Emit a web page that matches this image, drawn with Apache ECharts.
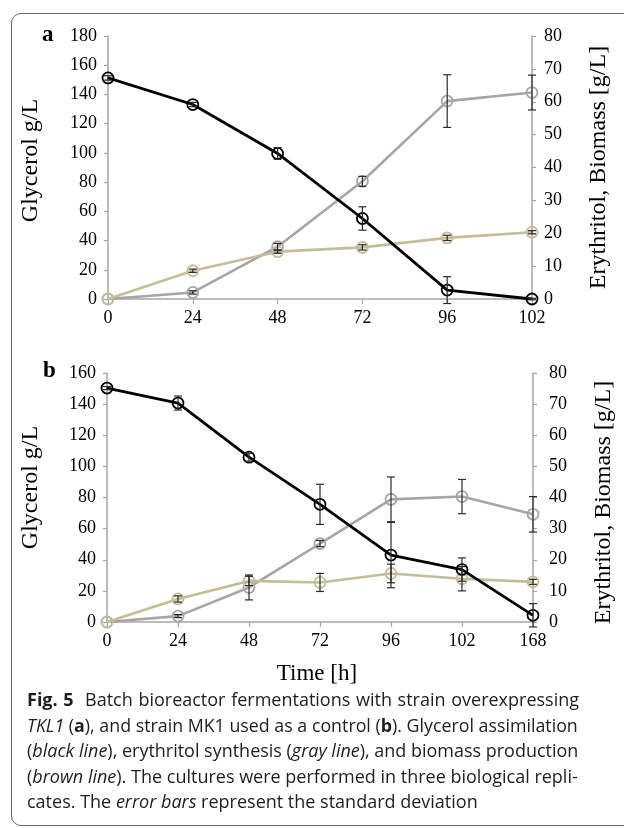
<!DOCTYPE html>
<html>
<head>
<meta charset="utf-8">
<script src="https://cdn.jsdelivr.net/npm/echarts@6/dist/echarts.min.js"></script>
<style>
  html, body { margin:0; padding:0; background:#fff; }
  #wrap { position:relative; width:624px; height:828px; overflow:hidden; }
  #chart { position:absolute; left:0; top:0; width:624px; height:828px; }
  #frame { position:absolute; left:11px; top:13px; width:660px; height:813px; border:1.5px solid #666; border-radius:10px; box-sizing:border-box; pointer-events:none; }
  #cap { position:absolute; left:27px; top:687px; width:2000px; font-family:"Open Sans","Noto Sans",sans-serif; font-size:18px; line-height:25.5px; color:#1e1e1e; }
  #cap .l { white-space:nowrap; height:25.5px; }
  #cap .l span { display:inline-block; white-space:nowrap; transform-origin:0 50%; }
</style>
</head>
<body>
<div id="wrap">
  <div id="chart"></div>
  <div id="frame"></div>
  <div id="cap">
    <div class="l"><span><b>Fig. 5</b>&nbsp; Batch bioreactor fermentations with strain overexpressing</span></div>
    <div class="l"><span><i>TKL1</i> (<b>a</b>), and strain MK1 used as a control (<b>b</b>). Glycerol assimilation</span></div>
    <div class="l"><span>(<i>black line</i>), erythritol synthesis (<i>gray line</i>), and biomass production</span></div>
    <div class="l"><span>(<i>brown line</i>). The cultures were performed in three biological repli-</span></div>
    <div class="l last"><span>cates. The <i>error bars</i> represent the standard deviation</span></div>
  </div>
</div>
<script>
// ---- Panel a data ----
const catsA = ['0','24','48','72','96','102'];
const glycerolA = [151.3, 133.1, 99.6, 55.1, 6.1, 0];
const glycerolAErr = [1.5, 1.5, 4, 8, 9.2, 0.5];
const erythritolA = [0, 2.0, 15.9, 35.8, 60.2, 62.8];
const erythritolAErr = [0, 0.5, 1, 1.5, 8, 5.3];
const biomassA = [0, 8.6, 14.4, 15.7, 18.6, 20.3];
const biomassAErr = [0, 0.5, 0.5, 0.8, 0.8, 0.5];

// ---- Panel b data ----
const catsB = ['0','24','48','72','96','102','168'];
const glycerolB = [150.3, 140.7, 105.9, 75.6, 43, 33.7, 4.3];
const glycerolBErr = [1, 4.5, 2.5, 12.9, 21, 7.5, 7.5];
const erythritolB = [0, 1.9, 11.1, 25.2, 39.4, 40.3, 34.6];
const erythritolBErr = [0, 0.5, 4, 1, 7.2, 5.5, 5.7];
const biomassB = [0, 7.4, 13.2, 12.7, 15.6, 13.9, 12.9];
const biomassBErr = [0, 1, 1.5, 2.9, 3, 3.9, 0.8];

// tick settings
const leftMaxA = 180, leftMaxB = 160, rightMax = 80;

const SERIF = '"Liberation Serif","Times New Roman",serif';
const AXIS_GRAY = '#a6a6a6';
const C_BLACK = '#000000', C_GRAY = '#a6a6a6', C_TAN = '#c4bd97';

// ---- caption justification: fit each line to the target width ----
function fitCaption(){
  const target = 551;
  document.querySelectorAll('#cap .l').forEach(l => {
    const s = l.querySelector('span');
    s.style.wordSpacing = '0px';
    s.style.transform = 'none';
    const w = s.offsetWidth;
    if (!w) return;
    if (w > target) {
      s.style.transform = 'scaleX(' + (target / w) + ')';
    } else if (!l.classList.contains('last')) {
      const n = (s.textContent.match(/ /g) || []).length;
      if (n > 0) s.style.wordSpacing = ((target - w) / n) + 'px';
    }
  });
}
fitCaption();
if (document.fonts && document.fonts.ready) document.fonts.ready.then(fitCaption);

function lineSeries(xi, yi, data, color, lw) {
  return {
    type:'line', xAxisIndex:xi, yAxisIndex:yi, data:data,
    symbol:'circle', symbolSize:11, showSymbol:true,
    lineStyle:{color:color, width:lw},
    itemStyle:{color:'rgba(0,0,0,0)', borderColor:color, borderWidth:1.8},
    z:3, animation:false, silent:true
  };
}
function errSeries(xi, yi, vals, errs) {
  const d = [];
  vals.forEach((v,i)=>{ if (errs[i] > 0) d.push([i, v-errs[i], v+errs[i]]); });
  return {
    type:'custom', xAxisIndex:xi, yAxisIndex:yi, z:4, animation:false, silent:true,
    encode:{x:0, y:[1,2]},
    data:d,
    renderItem:function(params, api){
      const lo = api.coord([api.value(0), api.value(1)]);
      const hi = api.coord([api.value(0), api.value(2)]);
      const w = 4;
      const st = {stroke:'#2a2a2a', lineWidth:1.2, fill:null};
      return {type:'group', children:[
        {type:'line', shape:{x1:lo[0], y1:lo[1], x2:hi[0], y2:hi[1]}, style:st},
        {type:'line', shape:{x1:lo[0]-w, y1:lo[1], x2:lo[0]+w, y2:lo[1]}, style:st},
        {type:'line', shape:{x1:hi[0]-w, y1:hi[1], x2:hi[0]+w, y2:hi[1]}, style:st}
      ]};
    }
  };
}
function xAxis(gi, cats, nameStr) {
  return {
    type:'category', gridIndex:gi, data:cats, boundaryGap:false,
    axisLine:{show:true, lineStyle:{color:AXIS_GRAY, width:1.5}},
    axisTick:{show:true, length:5, lineStyle:{color:AXIS_GRAY, width:1.2}},
    axisLabel:{color:'#000', fontFamily:SERIF, fontSize:18, margin:10},
    splitLine:{show:false},
    name:nameStr || '', nameLocation:'middle', nameGap:40,
    nameTextStyle:{color:'#000', fontFamily:SERIF, fontSize:23, padding:[0,0,0,-6]}
  };
}
function yAxis(gi, pos, max, interval, nameStr, nameGap, labelMargin, namePad) {
  return {
    type:'value', gridIndex:gi, position:pos, min:0, max:max, interval:interval,
    axisLine:{show:true, lineStyle:{color:AXIS_GRAY, width:1.5}},
    axisTick:{show:true, length:4, lineStyle:{color:AXIS_GRAY, width:1.2}},
    axisLabel:{color:'#000', fontFamily:SERIF, fontSize:18, margin:labelMargin},
    splitLine:{show:false},
    name:nameStr, nameLocation:'middle', nameGap:nameGap, nameRotate:90,
    nameTextStyle:{color:'#000', fontFamily:SERIF, fontSize:24, padding:namePad}
  };
}

const chart = echarts.init(document.getElementById('chart'), null, {renderer:'canvas'});
chart.setOption({
  backgroundColor:'transparent',
  animation:false,
  grid:[
    {left:108, right:92, top:36, height:263},
    {left:107, right:84, top:373, height:249}
  ],
  xAxis:[ xAxis(0, catsA), xAxis(1, catsB, 'Time [h]') ],
  yAxis:[
    yAxis(0, 'left', leftMaxA, 20, 'Glycerol g/L', 65, 11, [0,0,0,14]),
    yAxis(0, 'right', rightMax, 10, 'Erythritol, Biomass [g/L]', 55, 12, [0,0,0,0]),
    yAxis(1, 'left', leftMaxB, 20, 'Glycerol g/L', 64, 11, [0,0,0,20]),
    yAxis(1, 'right', rightMax, 10, 'Erythritol, Biomass [g/L]', 59, 16, [0,0,0,-10])
  ],
  graphic:[
    {type:'text', left:42, top:24, style:{text:'a', font:'bold 23px "Liberation Serif", serif', fill:'#000'}},
    {type:'text', left:43, top:360, style:{text:'b', font:'bold 23px "Liberation Serif", serif', fill:'#000'}}
  ],
  series:[
    lineSeries(0, 1, erythritolA, C_GRAY, 2.6),
    lineSeries(0, 1, biomassA, C_TAN, 2.6),
    lineSeries(0, 0, glycerolA, C_BLACK, 2.8),
    errSeries(0, 0, glycerolA, glycerolAErr),
    errSeries(0, 1, erythritolA, erythritolAErr),
    errSeries(0, 1, biomassA, biomassAErr),
    lineSeries(1, 3, erythritolB, C_GRAY, 2.6),
    lineSeries(1, 3, biomassB, C_TAN, 2.6),
    lineSeries(1, 2, glycerolB, C_BLACK, 2.8),
    errSeries(1, 2, glycerolB, glycerolBErr),
    errSeries(1, 3, erythritolB, erythritolBErr),
    errSeries(1, 3, biomassB, biomassBErr)
  ]
});
</script>
</body>
</html>
